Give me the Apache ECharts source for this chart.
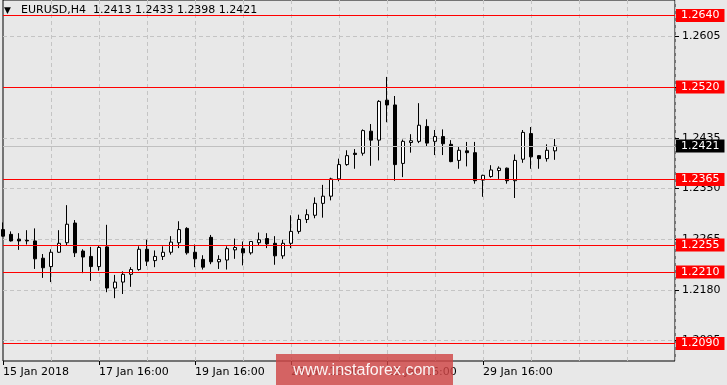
<!DOCTYPE html>
<html><head><meta charset="utf-8">
<script src="https://cdn.jsdelivr.net/npm/echarts@6/dist/echarts.min.js"></script>
<style>html,body{margin:0;padding:0;background:#e8e8e8}#c{width:727px;height:385px}</style>
</head><body><div id="c"></div>
<script>
// ---- data ----
const opens = [1.2281,1.2273,1.2265,1.2263,1.2262,1.2233,1.2219,1.2243,1.2259,1.2292,
1.2245,1.2236,1.2219,1.2252,1.2183,1.2193,1.2206,1.2214,1.2248,1.2229,
1.2236,1.2243,1.2259,1.2283,1.2243,1.2231,1.2268,1.2227,1.2230,1.2247,
1.2249,1.2242,1.2259,1.2266,1.2258,1.2237,1.2258,1.2278,1.2298,1.2305,
1.2325,1.2337,1.2366,1.2390,1.2409,1.2409,1.2446,1.2431,1.2498,1.2490,
1.2392,1.2427,1.2429,1.2454,1.2429,1.2437,1.2424,1.2397,1.2413,1.2410,
1.2364,1.2370,1.2380,1.2384,1.2363,1.2399,1.2442,1.2405,1.2400,1.2413];
const highs = [1.2293,1.2278,1.2275,1.2280,1.2283,1.2240,1.2248,1.2280,1.2322,1.2297,
1.2248,1.2252,1.2255,1.2289,1.2205,1.2211,1.2218,1.2253,1.2264,1.2246,
1.2253,1.2270,1.2295,1.2285,1.2256,1.2238,1.2272,1.2238,1.2253,1.2266,
1.2261,1.2261,1.2276,1.2275,1.2270,1.2264,1.2305,1.2306,1.2315,1.2335,
1.2356,1.2368,1.2400,1.2414,1.2416,1.2449,1.2458,1.2498,1.2537,1.2505,
1.2432,1.2441,1.2493,1.2466,1.2448,1.2449,1.2431,1.2421,1.2428,1.2428,
1.2373,1.2389,1.2387,1.2385,1.2407,1.2448,1.2453,1.2406,1.2424,1.2433];
const lows = [1.2269,1.2261,1.2247,1.2256,1.2215,1.2200,1.2193,1.2242,1.2254,1.2235,
1.2208,1.2195,1.2212,1.2176,1.2166,1.2173,1.2185,1.2212,1.2220,1.2218,
1.2230,1.2239,1.2250,1.2239,1.2218,1.2214,1.2223,1.2215,1.2214,1.2232,
1.2221,1.2239,1.2254,1.2250,1.2222,1.2232,1.2250,1.2274,1.2292,1.2300,
1.2301,1.2330,1.2362,1.2388,1.2383,1.2405,1.2388,1.2397,1.2461,1.2363,
1.2369,1.2410,1.2426,1.2420,1.2406,1.2406,1.2394,1.2383,1.2387,1.2358,
1.2336,1.2368,1.2366,1.2358,1.2334,1.2393,1.2383,1.2383,1.2395,1.2398];
const closes = [1.2270,1.2262,1.2262,1.2262,1.2232,1.2217,1.2243,1.2258,1.2290,1.2242,
1.2235,1.2219,1.2251,1.2183,1.2193,1.2206,1.2214,1.2248,1.2228,1.2236,
1.2243,1.2260,1.2281,1.2242,1.2232,1.2218,1.2227,1.2231,1.2249,1.2251,
1.2242,1.2261,1.2264,1.2257,1.2237,1.2258,1.2278,1.2298,1.2306,1.2325,
1.2337,1.2366,1.2390,1.2405,1.2407,1.2447,1.2431,1.2496,1.2490,1.2390,
1.2429,1.2430,1.2456,1.2426,1.2437,1.2425,1.2395,1.2414,1.2410,1.2363,
1.2372,1.2381,1.2384,1.2363,1.2397,1.2444,1.2403,1.2400,1.2414,1.2421];
const redLevels = [1.2640, 1.2520, 1.2365, 1.2255, 1.2210, 1.2090];
const currentPrice = 1.2421;
const yTicks = [1.2605, 1.2520, 1.2435, 1.2350, 1.2265, 1.2180, 1.2095];
const tickLabels = ['15 Jan 2018','17 Jan 16:00','19 Jan 16:00','23 Jan 16:00','25 Jan 16:00','29 Jan 16:00'];
const titleText = 'EURUSD,H4  1.2413 1.2433 1.2398 1.2421';
const watermark = 'www.instaforex.com';
const yMin = 1.206065, yMax = 1.266599;
const slotCount = 85;

// H4 time slots (weekdays only)
const months = ['Jan','Feb'];
const categories = [];
let t = Date.UTC(2018,0,15,16);
while (categories.length < slotCount) {
  const d = new Date(t); const wd = d.getUTCDay();
  if (wd !== 0 && wd !== 6) categories.push(d.getUTCDate()+' '+months[d.getUTCMonth()]+' '+String(d.getUTCHours()).padStart(2,'0')+':00');
  t += 4*3600e3;
}
const ohlc = opens.map((o,i)=>[o, closes[i], lows[i], highs[i]]);

const FONT = 'DejaVu Sans';
const lblIdx = (i)=> i%12===0 && i/12 < tickLabels.length;

const boxLabel = (bg)=>({show:true, position:'end', distance:1, formatter:p=>Number(p.value).toFixed(4),
  color:'#fff', backgroundColor:bg, fontFamily:FONT, fontSize:11, lineHeight:13, padding:[0,5,0,5]});

const chart = echarts.init(document.getElementById('c'), null, {renderer:'canvas'});
chart.setOption({
  animation:false,
  backgroundColor:'#e8e8e8',
  grid:{left:3, right:52, top:0, bottom:24, show:true, borderColor:'#000', borderWidth:1, backgroundColor:'transparent'},
  xAxis:{type:'category', data:categories, boundaryGap:false,
    axisLine:{show:false},
    axisTick:{show:true, interval:(i)=>lblIdx(i), length:4, lineStyle:{color:'#000'}},
    axisLabel:{interval:(i)=>lblIdx(i), formatter:(v,i)=>lblIdx(i)?tickLabels[i/12]:'', align:'left',
      color:'#000', fontFamily:FONT, fontSize:11, margin:6},
    splitLine:{show:true, interval:(i)=> i>0 && i%6===0, lineStyle:{color:'#c4c4c4', type:[4,3]}}
  },
  yAxis:{type:'value', position:'right', min:yMin, max:yMax, scale:true,
    axisLine:{show:false},
    axisTick:{show:true, length:4, customValues:yTicks, lineStyle:{color:'#000'}},
    axisLabel:{customValues:yTicks, formatter:v=>v.toFixed(4), color:'#000', fontFamily:FONT, fontSize:11, margin:7},
    splitLine:{show:true, lineStyle:{color:'#c4c4c4', type:[4,3]}}
  },
  series:[{
    type:'candlestick', data:ohlc, barWidth:4, clip:true,
    itemStyle:{color:'#ffffff', color0:'#000000', borderColor:'#000000', borderColor0:'#000000', borderWidth:1},
    markLine:{silent:true, symbol:'none', animation:false, precision:4,
      data:[
        {yAxis:currentPrice, lineStyle:{color:'#c0c0c0', width:1, type:'solid'}, label:boxLabel('#000')}
      ].concat(redLevels.map(v=>({yAxis:v, lineStyle:{color:'#ff0000', width:1, type:'solid', opacity:1}, label:boxLabel('#ff0000')})))
    }
  }],
  graphic:[
    {type:'text', left:4, top:6, style:{text:'▼', fontSize:9, fill:'#000', fontFamily:FONT}},
    {type:'text', left:21, top:5, style:{text:titleText, fontSize:11, fill:'#000', fontFamily:FONT}},
    {type:'rect', shape:{x:276, y:354, width:177, height:31}, style:{fill:'rgba(208,70,70,0.82)'}, z:100},
    {type:'text', x:364.5, y:371, z:101, style:{text:watermark, fontSize:16, fill:'rgba(255,255,255,0.92)', fontFamily:'Liberation Sans', align:'center', verticalAlign:'middle'}}
  ]
});
</script></body></html>
